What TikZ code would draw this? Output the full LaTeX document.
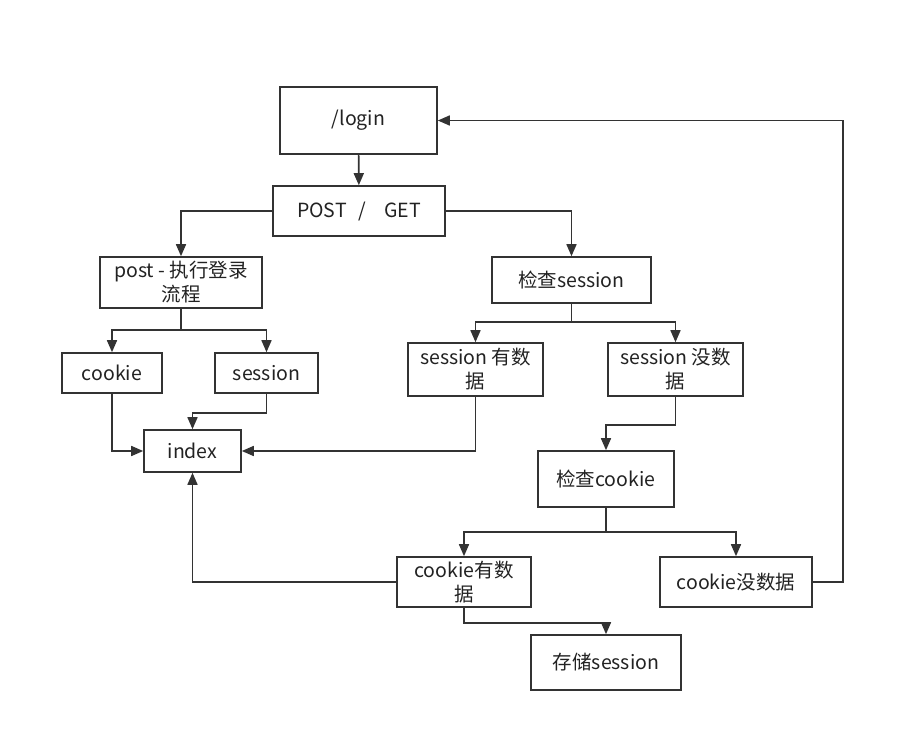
\documentclass[tikz,border=0pt]{standalone}
\usepackage{fontspec}
\setmainfont{Noto Sans CJK SC}
\usepackage{tikz}
\usetikzlibrary{arrows.meta,positioning,calc}
\definecolor{linegray}{RGB}{51, 51, 51}
\definecolor{textgray}{RGB}{34, 34, 34}

\tikzset{
  flowbox/.style={draw=linegray,line width=1.6pt,text=textgray,align=center,
    inner sep=0pt,font=\fontsize{19.5}{24}\selectfont},
  flowarr/.style={draw=linegray,line width=1.6pt,-{Triangle[length=12pt,width=10pt]}},
  flowline/.style={draw=linegray,line width=1.6pt}
}

\begin{document}
\begin{tikzpicture}[x=1pt,y=-1pt]
    \useasboundingbox (0,0) rectangle (903,753);
    % boxes
    \node[flowbox,minimum width=157pt,minimum height=67pt] (login) at (358.5,120.5) {/login};
    \node[flowbox,minimum width=172pt,minimum height=50pt] (postget) at (359,211) {POST\hspace{12pt}/\hspace{18pt}GET};
    \node[flowbox,minimum width=162pt,minimum height=51pt] (dologin) at (181,282.5) {post - 执行登录\\流程};
    \node[flowbox,minimum width=159pt,minimum height=46pt] (chksess) at (571.5,280) {检查session};
    \node[flowbox,minimum width=100pt,minimum height=40pt] (cookie) at (112,373) {cookie};
    \node[flowbox,minimum width=103pt,minimum height=40pt] (session) at (266.5,373) {session};
    \node[flowbox,minimum width=135pt,minimum height=53pt] (sesshas) at (475.5,369.5) {session 有数\\据};
    \node[flowbox,minimum width=135pt,minimum height=53pt] (sessnone) at (675.5,369.5) {session 没数\\据};
    \node[flowbox,minimum width=97pt,minimum height=42pt] (index) at (192.5,451) {index};
    \node[flowbox,minimum width=136pt,minimum height=56pt] (chkcook) at (606,479) {检查cookie};
    \node[flowbox,minimum width=134pt,minimum height=50pt] (cookhas) at (464,582) {cookie有数\\据};
    \node[flowbox,minimum width=152pt,minimum height=50pt] (cooknone) at (736,582) {cookie没数据};
    \node[flowbox,minimum width=150pt,minimum height=55pt] (store) at (606,662.5) {存储session};

    % split points
    \coordinate (splitpost) at (181,330);
    \coordinate (splitsess) at (571.5,322);
    \coordinate (splitcook) at (606,532);

    % connectors
    \draw[flowarr] (login) -- (postget);
    \draw[flowarr] (postget.west) -| (dologin.north);
    \draw[flowarr] (postget.east) -| (chksess.north);
    \draw[flowline] (dologin.south) -- (splitpost);
    \draw[flowarr] (splitpost) -| (cookie.north);
    \draw[flowarr] (splitpost) -| (session.north);
    \draw[flowline] (chksess.south) -- (splitsess);
    \draw[flowarr] (splitsess) -| (sesshas.north);
    \draw[flowarr] (splitsess) -| (sessnone.north);
    \draw[flowarr] (cookie.south) |- (index.west);
    \draw[flowarr] (session.south) -- ++(0,19) -| (index.north);
    \draw[flowarr] (sesshas.south) |- (index.east);
    \draw[flowarr] (sessnone.south) -- ++(0,28) -| (chkcook.north);
    \draw[flowline] (chkcook.south) -- (splitcook);
    \draw[flowarr] (splitcook) -| (cookhas.north);
    \draw[flowarr] (splitcook) -| (cooknone.north);
    \draw[flowarr] (cookhas.west) -| (index.south);
    \draw[flowarr] (cookhas.south) -- ++(0,15) -| (store.north);
    \draw[flowarr] (cooknone.east) -- ++(30,0) |- (login.east);
\end{tikzpicture}
\end{document}
